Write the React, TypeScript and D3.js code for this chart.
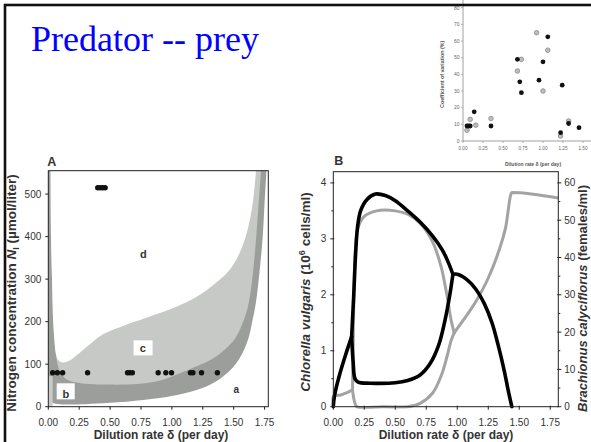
import React from 'react';
import * as d3 from 'd3';

// ---- panel A data (nitrogen vs dilution rate) ----
const aXTicks = [0, 0.25, 0.5, 0.75, 1, 1.25, 1.5, 1.75];
const aYTicks = [0, 100, 200, 300, 400, 500];
// outer edge of the dark band (U shape)
const bandOuter: [number, number][] = [
  [-0.02, 620], [0.0, 300], [0.0, 40], [0.01, 20], [0.03, 10], [0.1, 6], [0.3, 6],
  [0.5, 9], [0.77, 16], [1.0, 25], [1.2, 39], [1.35, 58], [1.47, 85], [1.55, 115],
  [1.615, 157], [1.65, 200], [1.68, 245], [1.71, 320], [1.735, 400], [1.75, 480],
  [1.765, 555], [1.775, 620],
];
// inner edge of the dark band = lower edge of region c
const bandInner: [number, number][] = [
  [0.016, 620], [0.018, 555], [0.022, 400], [0.03, 300], [0.04, 200], [0.05, 155],
  [0.058, 130], [0.075, 100], [0.1, 80], [0.15, 64], [0.25, 56], [0.5, 52],
  [0.74, 54], [0.9, 61], [1.04, 76], [1.2, 95], [1.33, 113], [1.43, 135],
  [1.51, 160], [1.57, 195], [1.615, 235], [1.65, 300], [1.68, 391], [1.7, 470],
  [1.72, 555], [1.725, 620],
];
// upper edge of region c
const cTop: [number, number][] = [
  [0.058, 130], [0.08, 110], [0.12, 104], [0.18, 110], [0.23, 121], [0.3, 138],
  [0.36, 153], [0.43, 168], [0.5, 178], [0.6, 189], [0.69, 199], [0.8, 210],
  [0.96, 226], [1.1, 243], [1.23, 264], [1.35, 290], [1.45, 316], [1.52, 345],
  [1.58, 385], [1.62, 425], [1.65, 470], [1.67, 520], [1.68, 555], [1.685, 620],
];
const lowDelta = [0.035, 0.073, 0.116, 0.318, 0.641, 0.66, 0.68, 0.889, 0.951, 0.997, 1.15, 1.17, 1.24, 1.368];
const lowN = 80;
const highDelta = [0.4, 0.42, 0.44, 0.46];
const highN = 515;

// ---- panel B data ----
const bXTicks = [0, 0.25, 0.5, 0.75, 1, 1.25, 1.5, 1.75];
const bLeftTicks = [0, 1, 2, 3, 4];
const bLeftMinor = [0.5, 1.5, 2.5, 3.5];
const bRightTicks = [0, 10, 20, 30, 40, 50, 60];
const bRightMinor = [5, 15, 25, 35, 45, 55];
// Chlorella (10^6 cells/ml), grey
const chlStart: [number, number][] = [[0, 0], [0, 0.18], [0.06, 0.21], [0.12, 0.26], [0.155, 0.3]];
const chlMax: [number, number][] = [
  [0.155, 0.3], [0.16, 1.0], [0.166, 2.0], [0.178, 2.8], [0.2, 3.2], [0.25, 3.4],
  [0.35, 3.5], [0.5, 3.5], [0.6, 3.44], [0.7, 3.28], [0.8, 2.95], [0.87, 2.5],
  [0.92, 1.95], [0.95, 1.55], [0.975, 1.32],
];
const chlMin: [number, number][] = [
  [0.155, 0.3], [0.17, 0.1], [0.19, 0.0], [0.4, 0.0], [0.6, 0.0], [0.7, 0.06],
  [0.8, 0.24], [0.87, 0.55], [0.92, 0.92], [0.95, 1.18], [0.975, 1.32],
];
const chlStable: [number, number][] = [
  [0.975, 1.32], [1.05, 1.55], [1.15, 1.88], [1.25, 2.3], [1.33, 2.75],
  [1.39, 3.2], [1.44, 3.83], [1.815, 3.73],
];
// Brachionus (females/ml), black
const braStart: [number, number][] = [[0, 0], [0.01, 3], [0.05, 8.5], [0.1, 14], [0.148, 18.8]];
const braMax: [number, number][] = [
  [0.148, 18.8], [0.165, 30], [0.18, 41], [0.195, 48], [0.22, 52.5], [0.27, 55.5],
  [0.34, 57], [0.42, 56.6], [0.5, 55.2], [0.6, 52.5], [0.7, 49.5], [0.8, 45.8],
  [0.88, 42], [0.93, 38.5], [0.965, 35.5],
];
const braMin: [number, number][] = [
  [0.148, 18.8], [0.16, 12], [0.175, 7.5], [0.2, 6.6], [0.3, 6.3], [0.5, 6.4],
  [0.6, 7], [0.7, 8.5], [0.78, 11.5], [0.85, 16.5], [0.9, 23], [0.94, 30],
  [0.965, 35.5],
];
const braStable: [number, number][] = [
  [0.965, 35.5], [1.0, 35.5], [1.08, 34], [1.15, 31.5], [1.22, 27.5], [1.28, 22.5],
  [1.33, 16.5], [1.38, 9.5], [1.41, 4.5], [1.44, 0],
];

// ---- inset data (coefficient of variation) ----
const insXTicks = [0, 0.25, 0.5, 0.75, 1, 1.25, 1.5];
const insYTicks = [0, 10, 20, 30, 40, 50, 60, 70, 80];
const cvBlack: [number, number][] = [
  [0.05, 9], [0.07, 9], [0.09, 9], [0.14, 17.5], [0.35, 9], [0.68, 49], [0.71, 35.5],
  [0.73, 29], [0.95, 36.5], [1.0, 47.5], [1.06, 62.5], [1.22, 5], [1.24, 33.5],
  [1.32, 10.5], [1.45, 8],
];
const cvGrey: [number, number][] = [
  [0.05, 6.5], [0.09, 13], [0.16, 9.5], [0.35, 13.5], [0.68, 42], [0.73, 49],
  [0.92, 65], [1.0, 30], [1.06, 54.5], [1.22, 3], [1.32, 12],
];

const sans = '"Liberation Sans", Arial, sans-serif';
const fmt2 = d3.format('.2f');

export default function App() {
  // scales
  const xA = d3.scaleLinear().domain([0, 1.78]).range([48.3, 268.3]);
  const yA = d3.scaleLinear().domain([0, 555]).range([406.7, 170.7]);
  const xB = d3.scaleLinear().domain([0, 1.815]).range([333.3, 558.3]);
  const yL = d3.scaleLinear().domain([0, 4.2]).range([406.7, 171.7]);
  const yR = d3.scaleLinear().domain([0, 63]).range([406.7, 171.7]);
  const xI = d3.scaleLinear().domain([0, 1.6]).range([463, 591]);
  const yI = d3.scaleLinear().domain([0, 80]).range([141, 7.7]);

  const areaA = d3.line<[number, number]>().x((d) => xA(d[0])).y((d) => yA(d[1])).curve(d3.curveCatmullRom);
  const lineL = d3.line<[number, number]>().x((d) => xB(d[0])).y((d) => yL(d[1])).curve(d3.curveCatmullRom);
  const lineR = d3.line<[number, number]>().x((d) => xB(d[0])).y((d) => yR(d[1])).curve(d3.curveCatmullRom);
  const lineLm = d3.line<[number, number]>().x((d) => xB(d[0])).y((d) => yL(d[1])).curve(d3.curveMonotoneX);

  // white region d = top of c + left arm inner edge
  const leftArm = bandInner.filter((d) => d[0] <= 0.058);
  const dRegion = [...cTop, [1.7, 640], [0.0, 640], ...leftArm] as [number, number][];

  const tickCol = '#333';
  const axCol = '#222';
  const tfs = 10;

  return (
    <svg width={591} height={442} style={{ position: 'absolute', left: 0, top: 0, background: '#fff' }}>
      <defs>
        <clipPath id="clipA">
          <rect x={xA(0)} y={yA(555)} width={xA(1.78) - xA(0)} height={yA(0) - yA(555)} />
        </clipPath>
        <clipPath id="clipB">
          <rect x={xB(0) - 2} y={yL(4.2)} width={xB(1.815) - xB(0) + 2} height={yL(0) - yL(4.2) + 2} />
        </clipPath>
      </defs>
      <rect x={0} y={0} width={591} height={442} fill="#fff" />

      {/* inset */}
      <g fontFamily={sans}>
        <line x1={xI(0)} x2={591} y1={yI(0)} y2={yI(0)} stroke="#888" strokeWidth={0.8} />
        <line x1={xI(0)} x2={xI(0)} y1={yI(0)} y2={0} stroke="#888" strokeWidth={0.8} />
        {insYTicks.map((t) => (
          <g key={t}>
            <line x1={xI(0) - 2} x2={xI(0)} y1={yI(t)} y2={yI(t)} stroke="#888" strokeWidth={0.6} />
            <text x={xI(0) - 3.5} y={yI(t) + 1.8} fontSize={5} textAnchor="end" fill="#666">{t}</text>
          </g>
        ))}
        {insXTicks.map((t) => (
          <g key={t}>
            <line x1={xI(t)} x2={xI(t)} y1={yI(0)} y2={yI(0) + 2} stroke="#888" strokeWidth={0.6} />
            <text x={xI(t)} y={yI(0) + 9} fontSize={4.6} textAnchor="middle" fill="#666">{fmt2(t)}</text>
          </g>
        ))}
        <text x={533} y={166} fontSize={5} fontWeight="bold" textAnchor="middle" fill="#555">Dilution rate δ (per day)</text>
        <text transform={`translate(444,${yI(40)}) rotate(-90)`} fontSize={5.3} fontWeight="bold" textAnchor="middle" fill="#555">Coefficient of variation (%)</text>
        {cvGrey.map((d, i) => (
          <circle key={'g' + i} cx={xI(d[0])} cy={yI(d[1])} r={2.3} fill="#bdbdbd" stroke="#8a8a8a" strokeWidth={0.8} />
        ))}
        {cvBlack.map((d, i) => (
          <circle key={'b' + i} cx={xI(d[0])} cy={yI(d[1])} r={2.4} fill="#111" />
        ))}
      </g>

      {/* title */}
      <text x={31} y={51} fontFamily='"Liberation Serif", "Times New Roman", serif' fontSize={36} fill="#0000ff">Predator -- prey</text>

      {/* panel A */}
      <g fontFamily={sans}>
        <g clipPath="url(#clipA)">
          <path d={areaA([...bandOuter, [1.8, 640], [-0.05, 640]] as [number, number][]) + 'Z'} fill="#9c9e9c" />
          <rect x={xA(0)} y={yA(72)} width={xA(0.035) - xA(0)} height={yA(0) - yA(72)} fill="#c9cbc9" />
          <path d={areaA([...bandInner, [1.75, 640], [0.0, 640]] as [number, number][]) + 'Z'} fill="#c6c9c6" />
          <path d={areaA(dRegion) + 'Z'} fill="#fff" />
        </g>
        <rect x={xA(0)} y={yA(555)} width={xA(1.78) - xA(0)} height={yA(0) - yA(555)} fill="none" stroke={axCol} strokeWidth={1} />
        {aYTicks.map((t) => (
          <g key={t}>
            <line x1={xA(0) - 3} x2={xA(0)} y1={yA(t)} y2={yA(t)} stroke={axCol} />
            <text x={xA(0) - 7} y={yA(t) + 3.5} fontSize={tfs} textAnchor="end" fill={tickCol}>{t}</text>
          </g>
        ))}
        {aXTicks.map((t) => (
          <g key={t}>
            <line x1={xA(t)} x2={xA(t)} y1={yA(0)} y2={yA(0) + 3} stroke={axCol} />
            <text x={xA(t)} y={yA(0) + 19.5} fontSize={tfs} textAnchor="middle" fill={tickCol}>{fmt2(t)}</text>
          </g>
        ))}
        {lowDelta.map((d, i) => (
          <circle key={'l' + i} cx={xA(d)} cy={yA(lowN)} r={2.7} fill="#111" />
        ))}
        {highDelta.map((d, i) => (
          <circle key={'h' + i} cx={xA(d)} cy={yA(highN)} r={2.7} fill="#111" />
        ))}
        <text x={xA(0.77)} y={yA(360) + 4} fontSize={11} fontWeight="bold" textAnchor="middle" fill="#333">d</text>
        <rect x={xA(0.69)} y={yA(156)} width={19} height={15} fill="#fff" />
        <text x={xA(0.765)} y={yA(139) + 4} fontSize={11} fontWeight="bold" textAnchor="middle" fill="#333">c</text>
        <rect x={xA(0.068)} y={yA(55)} width={18} height={16} fill="#fff" />
        <text x={xA(0.142)} y={yA(31) + 4} fontSize={11} fontWeight="bold" textAnchor="middle" fill="#333">b</text>
        <text x={xA(1.52)} y={yA(41) + 4} fontSize={10} fontWeight="bold" textAnchor="middle" fill="#333">a</text>
        <text x={xA(0) - 1} y={166} fontSize={12.5} fontWeight="bold" fill="#333">A</text>
        <text transform={`translate(16,293) rotate(-90)`} fontSize={13.5} fontWeight="bold" textAnchor="middle" fill="#333">
          Nitrogen concentration <tspan fontStyle="italic">N</tspan><tspan fontSize={9} dy={2.5}>I</tspan><tspan dy={-2.5}> (µmol/liter)</tspan>
        </text>
        <text x={161} y={439} fontSize={12} fontWeight="bold" textAnchor="middle" fill="#333">Dilution rate δ (per day)</text>
      </g>

      {/* panel B */}
      <g fontFamily={sans}>
        <g clipPath="url(#clipB)" fill="none" strokeLinejoin="round" strokeLinecap="round">
          <path d={lineL(chlStart) ?? ''} stroke="#a3a3a3" strokeWidth={3} />
          <path d={lineL(chlMax) ?? ''} stroke="#a3a3a3" strokeWidth={3} />
          <path d={lineL(chlMin) ?? ''} stroke="#a3a3a3" strokeWidth={3} />
          <path d={lineLm(chlStable) ?? ''} stroke="#a3a3a3" strokeWidth={3} />
          <path d={lineR(braStart) ?? ''} stroke="#000" strokeWidth={3.6} />
          <path d={lineR(braMax) ?? ''} stroke="#000" strokeWidth={3.6} />
          <path d={lineR(braMin) ?? ''} stroke="#000" strokeWidth={3.6} />
          <path d={lineR(braStable) ?? ''} stroke="#000" strokeWidth={3.6} />
        </g>
        <rect x={xB(0)} y={yL(4.2)} width={xB(1.815) - xB(0)} height={yL(0) - yL(4.2)} fill="none" stroke={axCol} strokeWidth={1} />
        {bLeftTicks.map((t) => (
          <g key={t}>
            <line x1={xB(0) - 3} x2={xB(0) + 1} y1={yL(t)} y2={yL(t)} stroke={axCol} />
            <text x={xB(0) - 7} y={yL(t) + 3.5} fontSize={tfs} textAnchor="end" fill={tickCol}>{t}</text>
          </g>
        ))}
        {bLeftMinor.map((t) => (
          <line key={t} x1={xB(0) - 2} x2={xB(0)} y1={yL(t)} y2={yL(t)} stroke={axCol} />
        ))}
        {bRightTicks.map((t) => (
          <g key={t}>
            <line x1={xB(1.815) - 1} x2={xB(1.815) + 3} y1={yR(t)} y2={yR(t)} stroke={axCol} />
            <text x={xB(1.815) + 6} y={yR(t) + 3.5} fontSize={tfs} textAnchor="start" fill={tickCol}>{t}</text>
          </g>
        ))}
        {bRightMinor.map((t) => (
          <line key={t} x1={xB(1.815)} x2={xB(1.815) + 2} y1={yR(t)} y2={yR(t)} stroke={axCol} />
        ))}
        {bXTicks.map((t) => (
          <g key={t}>
            <line x1={xB(t)} x2={xB(t)} y1={yL(0) - 1} y2={yL(0) + 3} stroke={axCol} />
            <text x={xB(t)} y={yL(0) + 19.5} fontSize={tfs} textAnchor="middle" fill={tickCol}>{fmt2(t)}</text>
          </g>
        ))}
        <text x={xB(0) + 1} y={165} fontSize={12.5} fontWeight="bold" fill="#333">B</text>
        <text transform={`translate(310,292) rotate(-90)`} fontSize={13.5} fontWeight="bold" textAnchor="middle" fill="#333">
          <tspan fontStyle="italic">Chlorella vulgaris</tspan> (10<tspan fontSize={9} dy={-5}>6</tspan><tspan dy={5}> cells/ml)</tspan>
        </text>
        <text transform={`translate(587,185) rotate(-90)`} fontSize={13} fontWeight="bold" textAnchor="end" fill="#333">
          <tspan fontStyle="italic">Brachionus calyciflorus</tspan> (females/ml)
        </text>
        <text x={446} y={439} fontSize={12} fontWeight="bold" textAnchor="middle" fill="#333">Dilution rate δ (per day)</text>
      </g>

      {/* slide frame */}
      <rect x={5} y={5} width={640} height={480} fill="none" stroke="#111" strokeWidth={2.6} />
    </svg>
  );
}
